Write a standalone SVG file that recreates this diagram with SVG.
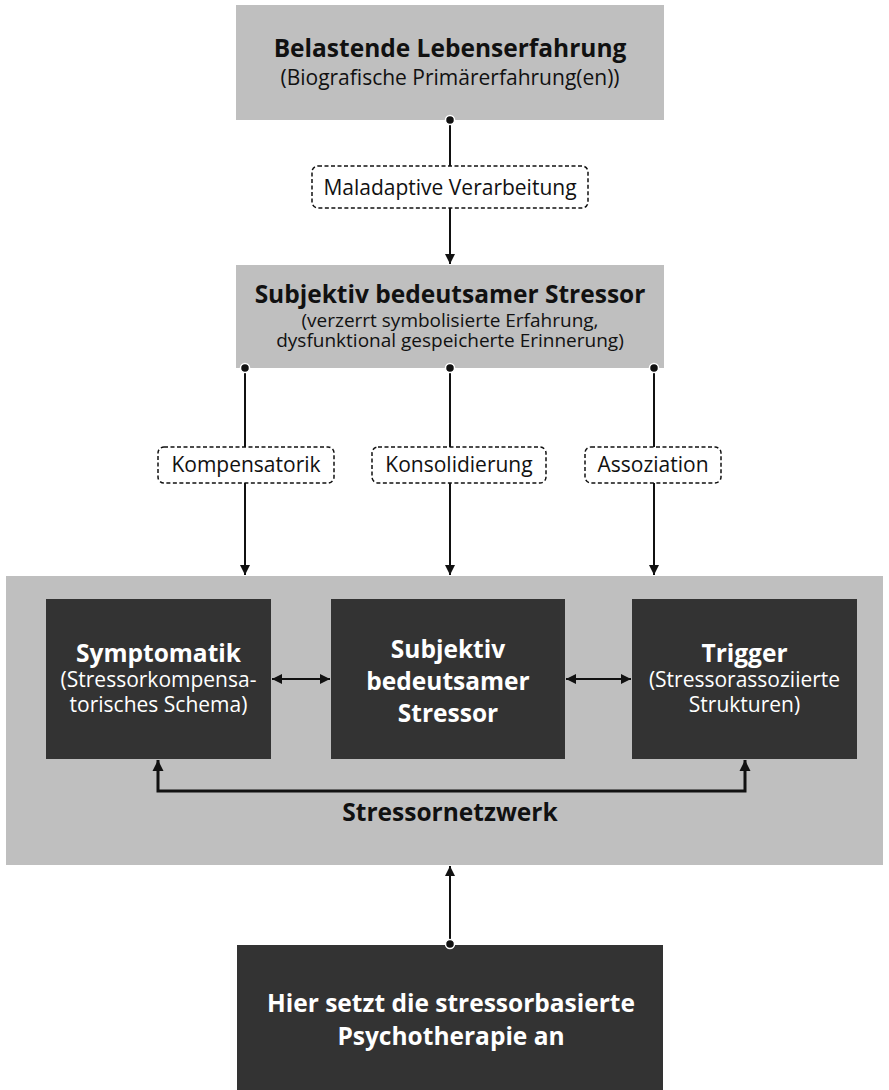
<svg xmlns="http://www.w3.org/2000/svg" width="889" height="1090" viewBox="0 0 889 1090">
<defs>
<style>
.lg{fill:#bfbfbf}
.dk{fill:#333333}
.t{font-family:"Open Sans","Noto Sans","DejaVu Sans",sans-serif;text-anchor:middle}
.b{font-weight:bold;font-size:24.5px}
.r{font-size:21px}
.s{font-size:19px}
.blk{fill:#111}
.wht{fill:#fff}
.lbl{fill:#fff;stroke:#111;stroke-width:1.5;stroke-dasharray:4 2.5}
.c{fill:none;stroke:#111;stroke-width:2}
.c3{fill:none;stroke:#111;stroke-width:3}
.dot{fill:#111;stroke:#fff;stroke-width:1.5}
</style>
<marker id="ah" viewBox="0 0 10 10" refX="10" refY="5" markerWidth="5" markerHeight="5" markerUnits="strokeWidth" orient="auto-start-reverse">
<path d="M0,0 L10,5 L0,10 z" fill="#111"/>
</marker>
<marker id="ah3" viewBox="0 0 10 10" refX="10" refY="5" markerWidth="3.7" markerHeight="3.7" markerUnits="strokeWidth" orient="auto-start-reverse">
<path d="M0,0 L10,5 L0,10 z" fill="#111"/>
</marker>
</defs>

<g id="node-belastende">
<rect class="lg" x="236" y="5" width="428" height="115"/>
<text class="t b blk" x="450" y="57">Belastende Lebenserfahrung</text>
<text class="t r blk" x="450" y="85">(Biografische Primärerfahrung(en))</text>
</g>

<g id="node-stressor">
<rect class="lg" x="236" y="265" width="428" height="103"/>
<text class="t b blk" x="450" y="303">Subjektiv bedeutsamer Stressor</text>
<text class="t s blk" x="450" y="327">(verzerrt symbolisierte Erfahrung,</text>
<text class="t s blk" x="450" y="347">dysfunktional gespeicherte Erinnerung)</text>
</g>

<g id="node-netzwerk">
<rect class="lg" x="6" y="576" width="877" height="289"/>
<text class="t b blk" x="450" y="821">Stressornetzwerk</text>
</g>

<g id="node-symptomatik">
<rect class="dk" x="46" y="599" width="225" height="160"/>
<text class="t b wht" x="158.5" y="662">Symptomatik</text>
<text class="t r wht" x="158.5" y="687">(Stressorkompensa-</text>
<text class="t r wht" x="158.5" y="712">torisches Schema)</text>
</g>

<g id="node-stressor2">
<rect class="dk" x="331" y="599" width="234" height="160"/>
<text class="t b wht" x="448" y="658">Subjektiv</text>
<text class="t b wht" x="448" y="690">bedeutsamer</text>
<text class="t b wht" x="448" y="722">Stressor</text>
</g>

<g id="node-trigger">
<rect class="dk" x="632" y="599" width="225" height="160"/>
<text class="t b wht" x="744.5" y="662">Trigger</text>
<text class="t r wht" x="744.5" y="687">(Stressorassoziierte</text>
<text class="t r wht" x="744.5" y="712">Strukturen)</text>
</g>

<g id="node-therapie">
<rect class="dk" x="237" y="945" width="426" height="145"/>
<text class="t b wht" x="451" y="1012">Hier setzt die stressorbasierte</text>
<text class="t b wht" x="451" y="1045">Psychotherapie an</text>
</g>

<g id="connectors">
<path class="c" d="M450,120 V166"/>
<path class="c" d="M450,208 V264" marker-end="url(#ah)"/>
<path class="c" d="M245,368 V447"/>
<path class="c" d="M245,483 V575" marker-end="url(#ah)"/>
<path class="c" d="M450,368 V447"/>
<path class="c" d="M450,483 V575" marker-end="url(#ah)"/>
<path class="c" d="M654,368 V447"/>
<path class="c" d="M654,483 V575" marker-end="url(#ah)"/>
<path class="c" d="M272,679 H330" marker-start="url(#ah)" marker-end="url(#ah)"/>
<path class="c" d="M566,679 H631" marker-start="url(#ah)" marker-end="url(#ah)"/>
<path class="c3" d="M158,760 V791 H745 V760" marker-start="url(#ah3)" marker-end="url(#ah3)"/>
<path class="c" d="M450,944 V866" marker-end="url(#ah)"/>
<circle class="dot" cx="450" cy="120" r="4.5"/>
<circle class="dot" cx="245" cy="368" r="4.5"/>
<circle class="dot" cx="450" cy="368" r="4.5"/>
<circle class="dot" cx="654" cy="368" r="4.5"/>
<circle class="dot" cx="450" cy="944" r="4.5"/>
</g>

<g id="label-maladaptiv">
<rect class="lbl" x="312" y="166" width="276" height="42" rx="6"/>
<text class="t r blk" x="450" y="195">Maladaptive Verarbeitung</text>
</g>
<g id="label-kompensatorik">
<rect class="lbl" x="158" y="447" width="176" height="36" rx="6"/>
<text class="t r blk" x="246" y="472">Kompensatorik</text>
</g>
<g id="label-konsolidierung">
<rect class="lbl" x="372" y="447" width="174" height="36" rx="6"/>
<text class="t r blk" x="459" y="472">Konsolidierung</text>
</g>
<g id="label-assoziation">
<rect class="lbl" x="585" y="447" width="136" height="36" rx="6"/>
<text class="t r blk" x="653" y="472">Assoziation</text>
</g>
</svg>
